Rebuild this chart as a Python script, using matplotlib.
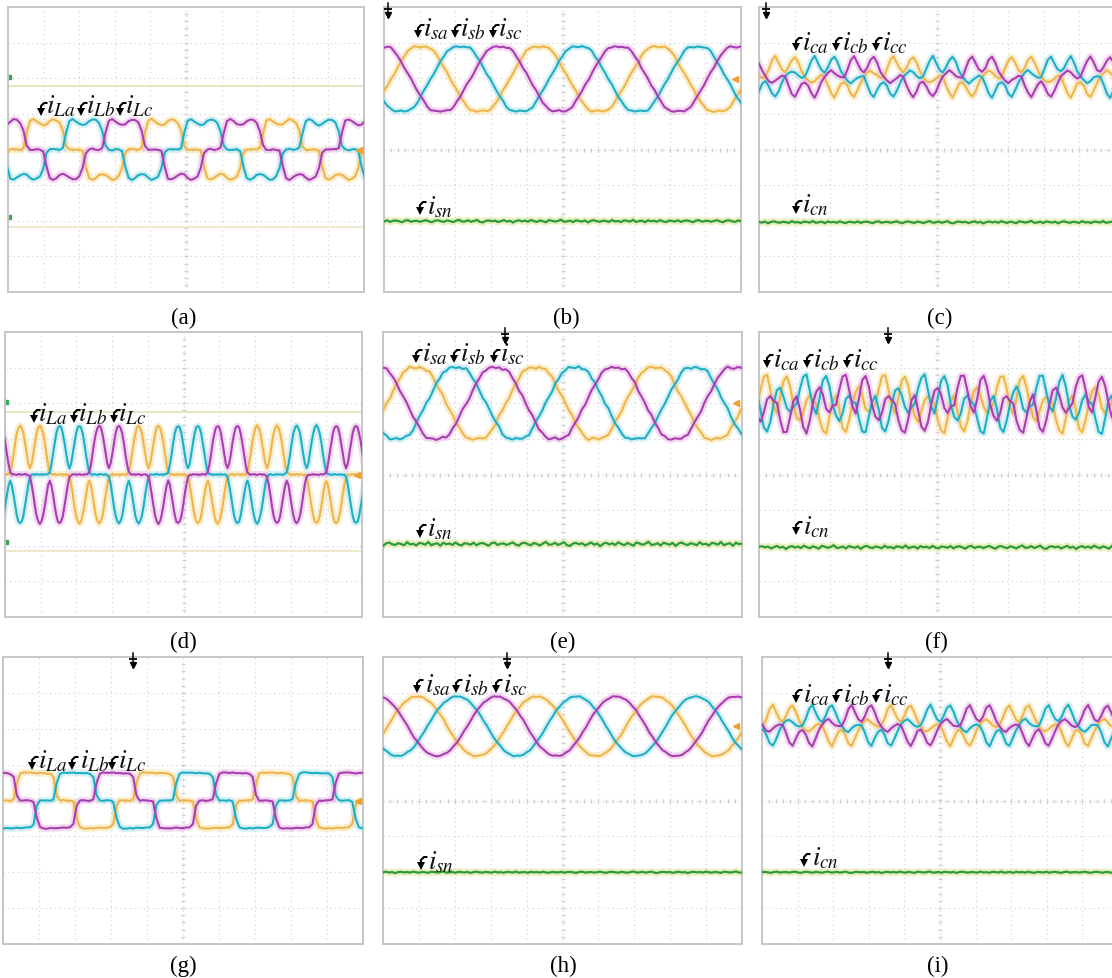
import numpy as np
import matplotlib
matplotlib.use('Agg')
import matplotlib.pyplot as plt

W, H = 1112, 979

# ---- values (units: divisions) ----
panel_tags = ['(a)', '(b)', '(c)', '(d)', '(e)', '(f)', '(g)', '(h)', '(i)']
load_names = [r'$i_{La}$', r'$i_{Lb}$', r'$i_{Lc}$']
source_names = [r'$i_{sa}$', r'$i_{sb}$', r'$i_{sc}$']
comp_names = [r'$i_{ca}$', r'$i_{cb}$', r'$i_{cc}$']
neutral_names = [r'$i_{sn}$', r'$i_{cn}$']

period_div = 3.32  # one mains cycle on screen

# phase-a half cycles, peak = 1 (10 deg steps, load_d in 5 deg steps)
load_a = [0.0, 0.0, 0.05, 0.55, 0.95, 1.0, 0.94, 0.85, 0.8, 0.84, 0.93, 1.0, 0.97, 0.88, 0.62, 0.12, 0.0, -0.02]
load_d = [0.0, 0.0, 0.0, 0.0, 0.0, 0.01, 0.05, 0.2, 0.42, 0.65, 0.84, 0.96, 1.0, 0.96, 0.84, 0.64, 0.42, 0.22,
          0.13, 0.22, 0.42, 0.64, 0.84, 0.96, 1.0, 0.96, 0.84, 0.65, 0.42, 0.2, 0.05, 0.01, 0.0, 0.0, 0.0, 0.0]
load_g = [0.0, 0.0, 0.04, 0.62, 0.96, 1.0, 1.0, 0.99, 0.99, 0.98, 0.98, 0.98, 0.97, 0.95, 0.85, 0.18, 0.0, 0.0]
source_b = [0.0, 0.18, 0.36, 0.54, 0.71, 0.86, 0.96, 1.0, 1.0, 1.0, 1.0, 1.0, 0.96, 0.86, 0.71, 0.54, 0.36, 0.18]
source_e = [0.0, 0.17, 0.35, 0.53, 0.7, 0.85, 0.95, 1.0, 0.99, 1.0, 1.0, 0.98, 0.95, 0.86, 0.72, 0.55, 0.37, 0.19]
source_h = [0.0, 0.19, 0.37, 0.53, 0.67, 0.79, 0.88, 0.95, 0.99, 1.0, 0.99, 0.95, 0.88, 0.79, 0.67, 0.53, 0.37, 0.19]
comp_c = [0.0, 0.4, 0.8, 1.0, 0.7, 0.35, 0.25, 0.45, 0.8, 1.0, 0.7, 0.3, 0.0, -0.2, -0.3, -0.2, -0.05, 0.05]
comp_f = [0.0, 0.55, 0.95, 1.0, 0.5, -0.1, -0.3, 0.2, 0.8, 1.0, 0.6, 0.0, -0.45, -0.6, -0.3, 0.15, 0.3, 0.1]
comp_i = [0.0, 0.35, 0.8, 1.0, 0.65, 0.3, 0.2, 0.45, 0.85, 1.0, 0.65, 0.25, -0.05, -0.25, -0.3, -0.15, 0.0, 0.05]

load_x0 = [0.25, -0.13, 0.11]
load_amp = [0.85, 1.37, 0.78]
source_x0 = [0.2, 0.1, 0.13]
source_amp = [0.9, 1.0, 0.83]
source_mid = [1.98, 2.0, 2.07]
comp_x0 = [0.18, -0.05, 0.03]
comp_amp = [0.57, 0.8, 0.57]
comp_mid = [2.04, 1.98, 2.09]
neutral_mid = [-2.01, -2.04, -1.95, -2.04, -2.0, -2.0]

# small trace ripple, in units of the per-panel ripple size
trace_ripple = [0.2, -0.4, 0.1, 0.6, -0.2, -0.7, 0.3, 0.5, -0.1, -0.5,
                0.4, 0.0, -0.6, 0.2, 0.8, -0.3, -0.2, 0.5, -0.4, 0.1,
                0.7, -0.5, -0.8, 0.2, 0.4, -0.1, 0.3, -0.6, 0.0, 0.6,
                -0.3, 0.2, -0.9, 0.1, 0.5, -0.2, 0.3, -0.4, 0.7, 0.0,
                -0.5, 0.4, -0.1, -0.7, 0.6, 0.2, -0.3, 0.1, 0.9, -0.4,
                -0.2, 0.3, -0.6, 0.5, 0.1, -0.3, 0.4, -0.8, 0.2, 0.6,
                -0.1, -0.4, 0.3, 0.0, -0.5, 0.7, -0.2, 0.1, -0.6, 0.4,
                0.2, -0.3, 0.8, -0.5, 0.0, 0.3, -0.7, 0.5, -0.1, 0.2,
                -0.4, 0.6, -0.2, -0.6, 0.3, 0.1, -0.3, 0.5, -0.5, 0.2,
                0.4, -0.1, -0.7, 0.3, 0.6, -0.4, 0.1]
load_ripple = [0.02, 0.02, 0.015]
source_ripple = [0.03, 0.05, 0.02]
comp_ripple = [0.03, 0.05, 0.02]
neutral_ripple = [0.045, 0.04, 0.07, 0.06, 0.025, 0.025]

# ---- styling ----
plt.rcParams['mathtext.fontset'] = 'stix'
plt.rcParams['font.family'] = ['Liberation Serif', 'DejaVu Serif']

phase_colors = ['#EFB54C', '#1FAFC5', '#A83FB0']
halo_colors = ['#F7DC98', '#A9DEE8', '#E6AEE2']
green, green_halo = '#2C9A3C', '#D8E792'

rects = [(8, 8, 364, 293), (384, 8, 741, 293), (759, 8, 1115, 293),
         (5, 333, 362, 618), (383, 333, 742, 618), (759, 333, 1115, 618),
         (3, 658, 363, 945), (383, 658, 742, 945), (762, 658, 1118, 945)]
tag_pos = [(184, 318), (566, 318), (940, 318),
           (183, 642), (563, 642), (936, 642),
           (183, 966), (563, 966), (938, 966)]
trigger_x = [None, 0.11, 0.2, None, 3.4, 3.62, 3.61, 3.45, 3.54]

fig = plt.figure(figsize=(W / 100, H / 100), dpi=100)


def screen(ax):
    ax.set_xlim(0, 10)
    ax.set_ylim(-4, 4)
    ax.set_xticks([])
    ax.set_yticks([])
    for s in ax.spines.values():
        s.set_color('#C6C6C6')
        s.set_linewidth(1.4)
    for v in range(1, 10):
        ax.axvline(v, color='#D6D6D6', lw=0.8, ls=(0, (1.2, 3.0)), zorder=0)
    for v in range(-3, 4):
        ax.axhline(v, color='#D6D6D6', lw=0.8, ls=(0, (1.2, 3.0)), zorder=0)
    mx = np.arange(0.2, 10, 0.2)
    ax.plot(mx, np.zeros_like(mx), ls='none', marker='|', ms=3.5, color='#D0D0D0', zorder=0)
    my = np.arange(-3.8, 4, 0.2)
    ax.plot(np.full_like(my, 5.0), my, ls='none', marker='_', ms=3.5, color='#D0D0D0', zorder=0)


def phase_curve(half, x0, amp, mid, k, rip, shift):
    cycle = np.concatenate([half, -np.asarray(half)])
    n = len(cycle)
    cycle = np.roll(cycle, (n // 3) * k)
    y = np.tile(cycle, 5)
    x = x0 - period_div + np.arange(len(y)) * period_div / n
    wig = np.resize(np.roll(trace_ripple, shift), len(y))
    return x, mid + amp * y + rip * wig


def draw_three(ax, half, x0, amp, mid, rip):
    curves = [phase_curve(half, x0, amp, mid, k, rip, 17 * k + 5) for k in range(3)]
    for k, (x, y) in enumerate(curves):
        ax.plot(x, y, color=halo_colors[k], lw=5, alpha=0.45, zorder=2)
    for k, (x, y) in enumerate(curves):
        ax.plot(x, y, color=phase_colors[k], lw=1.5, zorder=3)


def draw_neutral(ax, mid, rip, shift):
    y = mid + rip * np.resize(np.roll(trace_ripple, shift), 120)
    x = np.linspace(0, 10, 120)
    ax.plot(x, y, color=green_halo, lw=5, alpha=0.6, zorder=2)
    ax.plot(x, y, color=green, lw=1.6, zorder=3)


axes = []
for i, (l, t, r, b) in enumerate(rects):
    ax = fig.add_axes([l / W, 1 - b / H, (r - l) / W, (b - t) / H])
    screen(ax)
    axes.append(ax)
    fig.text(tag_pos[i][0] / W, 1 - tag_pos[i][1] / H, panel_tags[i],
             ha='center', va='center', fontsize=16.5)
    if trigger_x[i] is not None:
        tx = trigger_x[i]
        ax.plot([tx, tx], [4.1, 3.72], color='black', lw=1.1, clip_on=False, zorder=5)
        ax.plot(tx, 3.78, marker='v', ms=5, color='black', clip_on=False, zorder=5)
        ax.plot(tx, 3.95, marker='_', ms=6, mew=1.3, color='black', clip_on=False, zorder=5)

load_shapes = [load_a, load_d, load_g]
source_shapes = [source_b, source_e, source_h]
comp_shapes = [comp_c, comp_f, comp_i]

for row in range(3):
    axl, axs, axc = axes[3 * row], axes[3 * row + 1], axes[3 * row + 2]
    draw_three(axl, load_shapes[row], load_x0[row], load_amp[row], 0.0, load_ripple[row])
    draw_three(axs, source_shapes[row], source_x0[row], source_amp[row], source_mid[row],
               source_ripple[row])
    draw_three(axc, comp_shapes[row], comp_x0[row], comp_amp[row], comp_mid[row],
               comp_ripple[row])
    draw_neutral(axs, neutral_mid[2 * row], neutral_ripple[2 * row], 11 + 29 * row)
    draw_neutral(axc, neutral_mid[2 * row + 1], neutral_ripple[2 * row + 1], 43 + 31 * row)
    axl.plot(9.86, 0.0, marker='<', ms=5, color='#F0A030', zorder=4)
    axs.plot(9.82, source_mid[row], marker='<', ms=5, color='#F0A030', zorder=4)

# pale reference lines and channel marks on the load screens
for ax, (hi, lo) in zip([axes[0], axes[3]], [(1.78, -2.18), (1.75, -2.15)]):
    ax.axhline(hi, color='#DDE7BE', lw=1.3, zorder=1)
    ax.axhline(lo, color='#EEE6CC', lw=1.3, zorder=1)
    ax.plot([0.04, 0.04], [2.04, -1.9], ls='none', marker='s', ms=2.5, color='#3BA55A')

# overlay in image pixels for the hooked-arrow signal names
over = fig.add_axes([0, 0, 1, 1])
over.set_xlim(0, W)
over.set_ylim(H, 0)
over.axis('off')


def tag(name, x, y, tx, ty):
    # x, y: arrow tip; tx, ty: left end of the name on its baseline
    over.plot([x + 6.5, x + 3, x, x], [y - 12, y - 12, y - 9, y - 4],
              color='black', lw=1.5, solid_capstyle='butt', solid_joinstyle='round')
    over.plot(x, y - 3, marker='v', ms=6, color='black', mew=0)
    over.text(tx, ty, name, ha='left', va='baseline', fontsize=19.5, color='#111111')


for k in range(3):
    tag(load_names[k], [41, 81, 120][k], 116, [46, 86, 125][k], 113)
    tag(source_names[k], [418, 455, 493][k], 38, [423, 460, 498][k], 36)
    tag(comp_names[k], [796, 836, 876][k], 51, [802, 842, 882][k], 50)
    tag(load_names[k], [34, 74, 114][k], 423, [38, 78, 118][k], 421)
    tag(source_names[k], [416, 454, 494][k], 363, [422, 460, 500][k], 361)
    tag(comp_names[k], [767, 807, 847][k], 368, [773, 813, 853][k], 367)
    tag(load_names[k], [32, 72, 112][k], 770, [38, 80, 118][k], 768)
    tag(source_names[k], [417, 456, 496][k], 693, [425, 463, 503][k], 692)
    tag(comp_names[k], [796, 836, 876][k], 703, [803, 843, 883][k], 702)

tag(neutral_names[0], 420, 215, 427, 214)
tag(neutral_names[1], 796, 214, 802, 212)
tag(neutral_names[0], 420, 538, 427, 536)
tag(neutral_names[1], 796, 535, 803, 534)
tag(neutral_names[0], 421, 870, 428, 869)
tag(neutral_names[1], 804, 867, 812, 865)

fig.savefig('out.png', dpi=100)
